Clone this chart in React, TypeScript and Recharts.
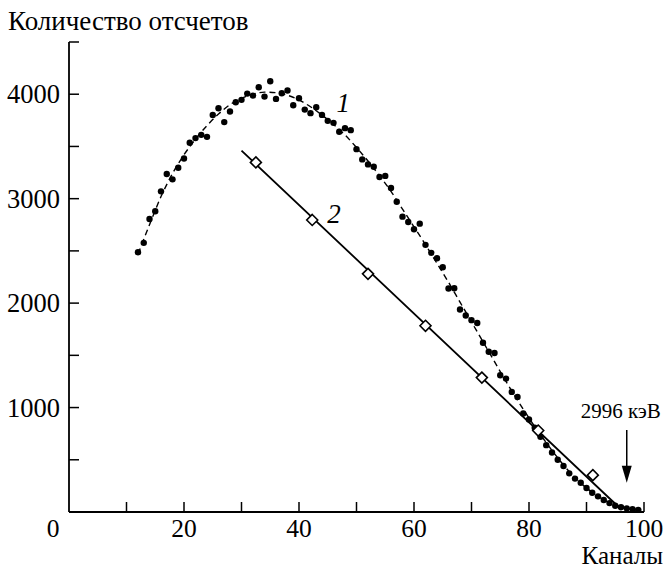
import { ComposedChart, Line, Scatter, XAxis, YAxis, ReferenceLine, ReferenceDot } from 'recharts';

// measured counts, channels 12..99
const channels = [
  12, 13, 14, 15, 16, 17, 18, 19, 20, 21, 22, 23, 24, 25, 26, 27, 28, 29, 30, 31, 32, 33,
  34, 35, 36, 37, 38, 39, 40, 41, 42, 43, 44, 45, 46, 47, 48, 49, 50, 51, 52, 53, 54, 55,
  56, 57, 58, 59, 60, 61, 62, 63, 64, 65, 66, 67, 68, 69, 70, 71, 72, 73, 74, 75, 76, 77,
  78, 79, 80, 81, 82, 83, 84, 85, 86, 87, 88, 89, 90, 91, 92, 93, 94, 95, 96, 97, 98, 99
];
const counts = [
  2487, 2577, 2806, 2879, 3070, 3236, 3185, 3296, 3385, 3535, 3580, 3611, 3592, 3802, 3866, 3733,
  3834, 3923, 3946, 4006, 3987, 4067, 3977, 4124, 3955, 4010, 4035, 3895, 3962, 3853, 3819, 3876,
  3802, 3745, 3726, 3640, 3675, 3656, 3474, 3376, 3328, 3306, 3208, 3218, 3102, 2971, 2828, 2777,
  2707, 2761, 2558, 2481, 2430, 2344, 2140, 2143, 1939, 1882, 1837, 1809, 1620, 1535, 1522, 1309,
  1277, 1150, 1102, 943, 886, 806, 720, 640, 570, 500, 440, 370, 320, 280, 230, 185, 150, 115,
  85, 60, 45, 35, 28, 20
];

// dashed fit (curve 1)
const fitX = [12, 14, 16, 18, 20, 22, 24, 26, 28, 30, 32, 34, 36, 38, 40, 42, 44, 46, 48, 50, 52, 54,
  56, 58, 60, 62, 64, 66, 68, 70, 72, 74, 76, 78, 80, 82, 84, 86, 88, 90, 92, 94, 96, 98, 99];
const fitY = [2470, 2750, 3020, 3240, 3420, 3570, 3700, 3810, 3900, 3960, 4000, 4020, 4015, 3990, 3945,
  3880, 3800, 3710, 3610, 3490, 3360, 3220, 3070, 2900, 2730, 2560, 2380, 2200, 2010, 1820, 1630, 1440,
  1250, 1070, 900, 740, 590, 450, 330, 230, 150, 90, 50, 28, 20];

// curve 2: straight line and diamond points
const lineX = [30, 94.3, 95.5, 97, 99.5];
const lineY = [3460, 115, 55, 32, 18];
const diamondX = [32.5, 42.3, 52, 62, 71.8, 81.6, 91.1];
const diamondY = [3347, 2796, 2280, 1783, 1287, 780, 353];

const xTicks = [0, 10, 20, 30, 40, 50, 60, 70, 80, 90, 100];
const xLabels = [0, 20, 40, 60, 80, 100];
const yTicks = [500, 1000, 1500, 2000, 2500, 3000, 3500, 4000, 4500];
const yLabels = [1000, 2000, 3000, 4000];

const dots = channels.map((x, i) => ({ x, y: counts[i] }));
const fit = fitX.map((x, i) => ({ x, y: fitY[i] }));
const line2 = lineX.map((x, i) => ({ x, y: lineY[i] }));
const diamonds = diamondX.map((x, i) => ({ x, y: diamondY[i] }));

const font = "'Liberation Serif', 'DejaVu Serif', serif";

const XTick = (props: any) => {
  const { x, y, payload } = props;
  const v = payload.value;
  return (
    <g>
      {v !== 0 && <line x1={x} y1={y} x2={x} y2={y - 10} stroke="#000" strokeWidth={1.5} />}
      {xLabels.includes(v) && (
        <text x={v === 0 ? x - 16 : x} y={y + 25} textAnchor="middle" fontSize={25.5} fontFamily={font} fill="#000">
          {v}
        </text>
      )}
    </g>
  );
};

const YTick = (props: any) => {
  const { x, y, payload } = props;
  const v = payload.value;
  return (
    <g>
      <line x1={x} y1={y} x2={x + 10} y2={y} stroke="#000" strokeWidth={1.5} />
      {yLabels.includes(v) && (
        <text x={x - 9} y={y + 9} textAnchor="end" fontSize={26.5} fontFamily={font} fill="#000">
          {v}
        </text>
      )}
    </g>
  );
};

const Dot = (p: any) => <circle cx={p.cx} cy={p.cy} r={3.2} fill="#000" />;

const Diamond = (p: any) => {
  const s = 5.5;
  return (
    <polygon
      points={`${p.cx},${p.cy - s} ${p.cx + s},${p.cy} ${p.cx},${p.cy + s} ${p.cx - s},${p.cy}`}
      fill="#fff"
      stroke="#000"
      strokeWidth={1.6}
    />
  );
};

const Arrow = (p: any) => {
  const { x1, y1, x2, y2 } = p;
  return (
    <g>
      <line x1={x1} y1={y1} x2={x2} y2={y2 - 14} stroke="#000" strokeWidth={1.5} />
      <polygon points={`${x2 - 5},${y2 - 17} ${x2 + 5},${y2 - 17} ${x2},${y2}`} fill="#000" />
      <text x={x1 - 6} y={y1 - 12} textAnchor="middle" fontSize={21} fontFamily={font} fill="#000">
        2996 кэВ
      </text>
    </g>
  );
};

const CurveLabel = (text: string) => (p: any) => (
  <text x={p.cx} y={p.cy + 9} textAnchor="middle" fontSize={27} fontStyle="italic" fontFamily={font} fill="#000">
    {text}
  </text>
);

export default function App() {
  return (
    <div style={{ position: 'absolute', left: 0, top: 0, width: 665, height: 571, background: '#fff', fontFamily: font }}>
      <div style={{ position: 'absolute', left: 8, top: 8, fontSize: 27, lineHeight: 1, whiteSpace: 'nowrap' }}>
        Количество отсчетов
      </div>
      <div style={{ position: 'absolute', right: 2, top: 545, fontSize: 25, lineHeight: 0.85, whiteSpace: 'nowrap' }}>
        Каналы
      </div>
      <ComposedChart width={665} height={571} margin={{ top: 42, right: 21, bottom: 29, left: 0 }} style={{ overflow: 'visible' }}>
        <XAxis
          type="number"
          dataKey="x"
          domain={[0, 100]}
          ticks={xTicks}
          interval={0}
          height={30}
          tickSize={0}
          tickMargin={0}
          tickLine={false}
          tick={<XTick />}
          axisLine={{ stroke: '#000', strokeWidth: 1.8 }}
          allowDataOverflow
        />
        <YAxis
          type="number"
          dataKey="y"
          domain={[0, 4500]}
          ticks={yTicks}
          interval={0}
          width={69}
          tickSize={0}
          tickMargin={0}
          tickLine={false}
          tick={<YTick />}
          axisLine={{ stroke: '#000', strokeWidth: 1.8 }}
          allowDataOverflow
        />
        <Line data={fit} dataKey="y" type="monotone" stroke="#000" strokeWidth={1.4} strokeDasharray="6 4" dot={false} isAnimationActive={false} />
        <Line data={line2} dataKey="y" type="linear" stroke="#000" strokeWidth={1.8} dot={false} isAnimationActive={false} />
        <Scatter data={dots} dataKey="y" shape={Dot} isAnimationActive={false} />
        <Scatter data={diamonds} dataKey="y" shape={Diamond} isAnimationActive={false} />
        <ReferenceLine segment={[{ x: 97, y: 785 }, { x: 97, y: 280 }]} shape={Arrow} />
        <ReferenceDot x={47.7} y={3917} r={0} shape={CurveLabel('1')} />
        <ReferenceDot x={46.1} y={2857} r={0} shape={CurveLabel('2')} />
      </ComposedChart>
    </div>
  );
}
